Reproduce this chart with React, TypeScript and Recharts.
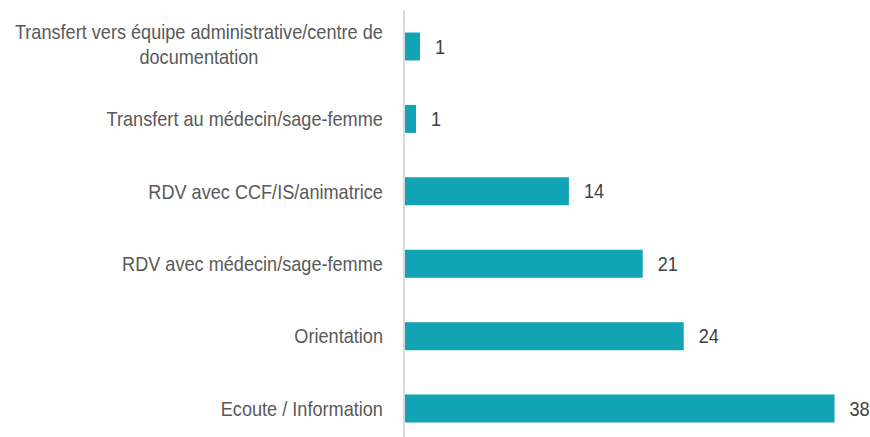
import { BarChart, Bar, XAxis, YAxis, LabelList } from "recharts"

const categories = [
  "Transfert vers équipe administrative/centre de documentation",
  "Transfert au médecin/sage-femme",
  "RDV avec CCF/IS/animatrice",
  "RDV avec médecin/sage-femme",
  "Orientation",
  "Ecoute / Information",
]

// labels show the rounded value
const values = [1.4, 1.05, 14.4, 20.85, 24.43, 37.6]

const data = categories.map((name, i) => ({ name, value: values[i] }))

const FONT = '"Liberation Sans", Arial, sans-serif'
const FS = 19.5
const SX = 0.93
const BAR_COLOR = "#12A4B5"

let ctx: CanvasRenderingContext2D | null = null
function measure(s: string) {
  if (!ctx) ctx = document.createElement("canvas").getContext("2d")
  if (!ctx) return s.length * FS * 0.5 * SX
  ctx.font = `${FS}px ${FONT}`
  return ctx.measureText(s).width * SX
}

function wrap(label: string, maxWidth: number) {
  const words = label.split(" ")
  const lines: string[] = []
  let cur = ""
  for (const w of words) {
    const next = cur ? cur + " " + w : w
    if (cur && measure(next) > maxWidth) {
      lines.push(cur)
      cur = w
    } else {
      cur = next
    }
  }
  if (cur) lines.push(cur)
  return lines
}

function CategoryTick(props: any) {
  const { x, y, payload } = props
  const lines = wrap(String(payload.value), 385)
  const widths = lines.map(measure)
  const maxW = Math.max(...widths)
  const cx = x - maxW / 2
  const first = y + 7 - 12.5 * (lines.length - 1) - (lines.length > 1 ? 2 : 0)
  return (
    <g>
      {lines.map((line, i) => (
        <text
          key={i}
          transform={`translate(${cx},${first + i * 25}) scale(${SX},1)`}
          textAnchor="middle"
          fontFamily={FONT}
          fontSize={FS}
          fill="#595959"
        >
          {line}
        </text>
      ))}
    </g>
  )
}

function ValueLabel(props: any) {
  const { x, y, width, height, value } = props
  return (
    <text
      transform={`translate(${x + width + 15},${y + height / 2 + 7}) scale(${SX},1)`}
      textAnchor="start"
      fontFamily={FONT}
      fontSize={FS}
      fill="#404040"
    >
      {Math.round(value)}
    </text>
  )
}

export default function App() {
  // fixed to the viewport so the page never scrolls
  return (
    <div style={{ position: "fixed", top: 0, left: 0, width: 870, height: 437, overflow: "hidden", background: "#fff" }}>
      <BarChart
        width={870}
        height={445}
        data={data}
        layout="vertical"
        margin={{ top: 10.5, right: 8, left: 0, bottom: 0 }}
      >
        <XAxis type="number" domain={[0, 40]} hide />
        <YAxis
          type="category"
          dataKey="name"
          width={404}
          tickLine={false}
          tickSize={0}
          tickMargin={21}
          axisLine={{ stroke: "#d9d9d9", strokeWidth: 2 }}
          tick={<CategoryTick />}
          interval={0}
        />
        <Bar dataKey="value" fill={BAR_COLOR} barSize={28} isAnimationActive={false}>
          <LabelList dataKey="value" content={<ValueLabel />} />
        </Bar>
      </BarChart>
    </div>
  )
}
